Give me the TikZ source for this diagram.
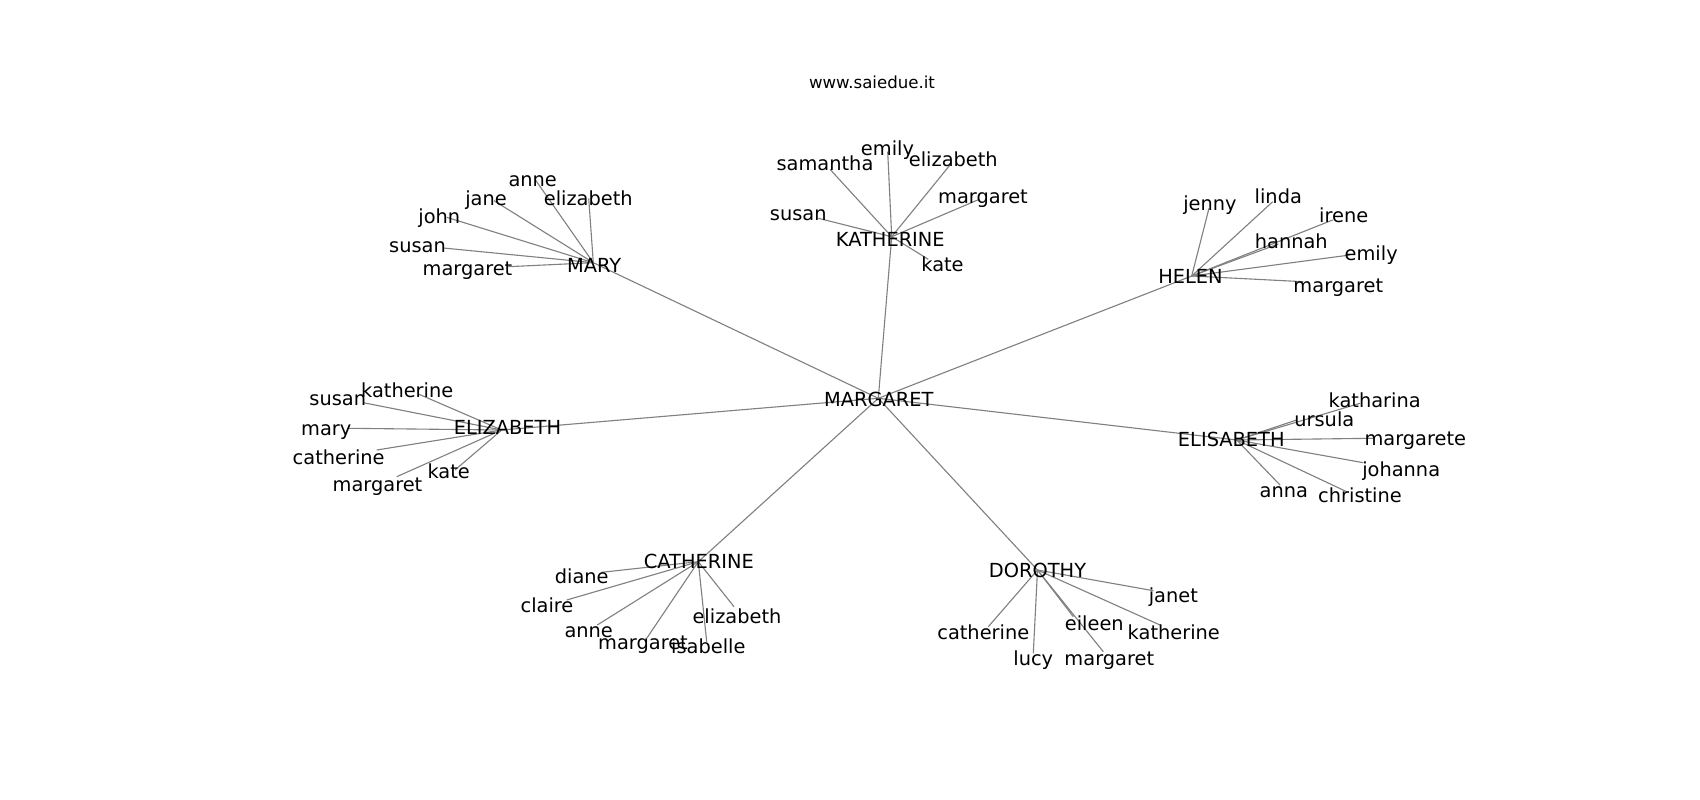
\documentclass[tikz,border=0pt]{standalone}
\usepackage{fontspec}
\setmainfont{DejaVu Sans}
\pgfdeclarelayer{bottom}
\pgfdeclarelayer{edges}
\pgfsetlayers{bottom,edges,main}
\tikzset{
  edge/.style={draw=black!50, line width=0.8pt},
  lbl/.style={anchor=base, inner sep=0pt, yshift=-1.5pt, font=\fontsize{14}{16}\selectfont, text=black},
  ttl/.style={anchor=base, inner sep=0pt, yshift=-1pt, font=\fontsize{12}{14}\selectfont, text=black}
}
% \leaf{hub}{id}{text}{cx}{baseline}{ex}{ey}
\newcommand{\leaf}[7]{%
  \coordinate (#2-e) at (#6,#7);
  \node[lbl] (#2) at (#4,#5) {#3};
  \begin{pgfonlayer}{edges}
    \draw[edge] (#1-c) -- (#2-e);
  \end{pgfonlayer}
}
\begin{document}
\begin{tikzpicture}[x=0.01in, y=-0.01in]
\begin{pgfonlayer}{bottom}
\fill[white] (0,0) rectangle (1700,800);
\end{pgfonlayer}
\useasboundingbox (0,0) rectangle (1700,800);

\node[ttl] (title) at (872,87.3) {www.saiedue.it};

% hubs
\coordinate (margaret-c) at (878.3,398.3);
\coordinate (mary-c) at (593.3,262.7);
\coordinate (katherine-c) at (891.7,236.7);
\coordinate (helen-c) at (1191.7,276);
\coordinate (elizabeth-c) at (501.7,430);
\coordinate (elisabeth-c) at (1236.7,440);
\coordinate (catherine-c) at (698.3,561.7);
\coordinate (dorothy-c) at (1037.5,570);

\node[lbl] (margaret) at (878.8,404) {MARGARET};
\node[lbl] (mary) at (594.2,270.7) {MARY};
\node[lbl] (katherine) at (890.3,244.3) {KATHERINE};
\node[lbl] (helen) at (1190.5,281.7) {HELEN};
\node[lbl] (elizabeth) at (507.5,432.7) {ELIZABETH};
\node[lbl] (elisabeth) at (1231.3,444) {ELISABETH};
\node[lbl] (catherine) at (698.8,566.7) {CATHERINE};
\node[lbl] (dorothy) at (1037.5,575.7) {DOROTHY};

\begin{pgfonlayer}{edges}
\foreach \h in {mary,katherine,helen,elizabeth,elisabeth,catherine,dorothy}
  \draw[edge] (margaret-c) -- (\h-c);
\end{pgfonlayer}

% MARY
\leaf{mary}{ma1}{anne}{532.7}{184.3}{535}{179.3}
\leaf{mary}{ma2}{jane}{486}{203.3}{494}{200.7}
\leaf{mary}{ma3}{elizabeth}{588.3}{203.3}{588.7}{198.3}
\leaf{mary}{ma4}{john}{439.3}{221.7}{446.7}{217.3}
\leaf{mary}{ma5}{susan}{417.5}{250.7}{443.3}{248}
\leaf{mary}{ma6}{margaret}{467.5}{273.3}{508.3}{266.7}

% KATHERINE
\leaf{katherine}{ka1}{emily}{887.5}{153.3}{887.7}{151.7}
\leaf{katherine}{ka2}{samantha}{825}{168.3}{830}{169.3}
\leaf{katherine}{ka3}{elizabeth}{953.3}{164}{950}{165}
\leaf{katherine}{ka4}{margaret}{983}{201.7}{979.3}{199.3}
\leaf{katherine}{ka5}{susan}{798.3}{218.3}{818.3}{218.3}
\leaf{katherine}{ka6}{kate}{942.5}{269.3}{928.3}{259.3}

% HELEN
\leaf{helen}{he1}{jenny}{1210}{208.3}{1209}{208.3}
\leaf{helen}{he2}{linda}{1278.3}{201.7}{1272.7}{201.7}
\leaf{helen}{he3}{irene}{1343.7}{220}{1332.7}{220}
\leaf{helen}{he4}{hannah}{1291.3}{246}{1278.3}{244}
\leaf{helen}{he5}{emily}{1371.2}{258.3}{1350}{255}
\leaf{helen}{he6}{margaret}{1338.3}{290.3}{1303.3}{281.7}

% ELIZABETH
\leaf{elizabeth}{ez1}{katherine}{407.2}{395}{418.3}{394}
\leaf{elizabeth}{ez2}{susan}{337.8}{403.3}{363.3}{402.7}
\leaf{elizabeth}{ez3}{mary}{326.3}{433.3}{348.3}{428.3}
\leaf{elizabeth}{ez4}{catherine}{338.7}{462.7}{376.7}{450}
\leaf{elizabeth}{ez5}{kate}{448.7}{476}{455}{470}
\leaf{elizabeth}{ez6}{margaret}{377.5}{489.7}{396.7}{476.7}

% ELISABETH
\leaf{elisabeth}{es1}{katharina}{1374.7}{405}{1360}{403.3}
\leaf{elisabeth}{es2}{ursula}{1324.3}{424.3}{1296.7}{420}
\leaf{elisabeth}{es3}{margarete}{1415.3}{443.3}{1373.3}{438.3}
\leaf{elisabeth}{es4}{johanna}{1401.2}{474.3}{1363.3}{462.7}
\leaf{elisabeth}{es5}{anna}{1283.8}{495.5}{1280}{485}
\leaf{elisabeth}{es6}{christine}{1360}{500.3}{1346.7}{491.7}

% CATHERINE
\leaf{catherine}{ca1}{diane}{581.7}{581.7}{601.7}{572.3}
\leaf{catherine}{ca2}{claire}{547}{610.7}{566.7}{600}
\leaf{catherine}{ca3}{anne}{588.7}{635.7}{597.3}{625}
\leaf{catherine}{ca4}{margaret}{643}{647.3}{646.7}{638.3}
\leaf{catherine}{ca5}{isabelle}{708.3}{651.7}{706.7}{641.7}
\leaf{catherine}{ca6}{elizabeth}{737}{621.7}{734}{606.7}

% DOROTHY
\leaf{dorothy}{do1}{janet}{1173.3}{600}{1153.3}{590.7}
\leaf{dorothy}{do2}{catherine}{983.3}{637.3}{988.3}{626.7}
\leaf{dorothy}{do3}{eileen}{1094.3}{628.3}{1073.3}{616.7}
\leaf{dorothy}{do4}{katherine}{1173.8}{637.3}{1160}{625}
\leaf{dorothy}{do5}{lucy}{1033.3}{663.3}{1033.3}{653.3}
\leaf{dorothy}{do6}{margaret}{1109.3}{663.3}{1103.3}{651.7}
\end{tikzpicture}
\end{document}
